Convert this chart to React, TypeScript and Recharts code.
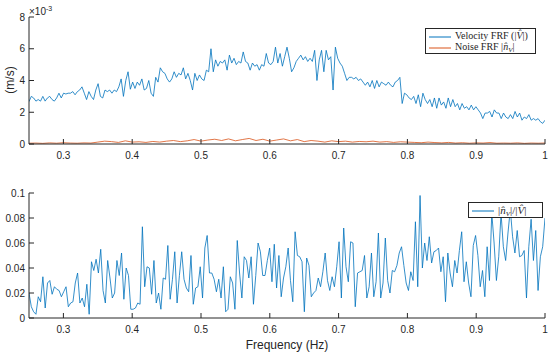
import React from 'react'
import { LineChart, Line, XAxis, YAxis } from 'recharts'

// velocity FRF magnitude, units of 1e-3 m/s, evenly spaced 0.25..1 Hz
const VELOCITY = [
  2.67, 3.0, 2.9, 2.7, 2.8, 2.7, 3.0, 2.7, 2.9, 3.0,
  2.8, 2.7, 2.9, 3.2, 2.9, 3.2, 3.15, 3.2, 3.2, 3.3,
  3.1, 3.3, 3.4, 3.6, 3.2, 2.8, 3.3, 3.0, 2.8, 3.4,
  3.8, 3.0, 2.9, 3.4, 3.3, 3.4, 3.2, 3.4, 3.3, 3.6,
  4.1, 3.0, 4.0, 4.55, 3.45, 3.9, 3.5, 3.9, 3.7, 4.1,
  3.4, 3.5, 4.0, 3.2, 3.0, 4.2, 3.9, 4.8, 4.55, 4.45,
  4.1, 3.9, 4.1, 4.55, 4.2, 4.45, 4.35, 4.8, 4.1, 4.45,
  4.0, 3.4, 4.45, 4.0, 4.35, 4.1, 4.0, 4.65, 4.55, 6.0,
  4.55, 5.3, 4.9, 5.2, 5.1, 5.3, 4.65, 5.6, 5.1, 5.4,
  5.0, 5.2, 5.1, 5.8, 5.2, 5.1, 4.65, 5.1, 4.9, 5.0,
  4.65, 5.0, 4.9, 5.7, 5.1, 5.0, 5.2, 6.1, 5.1, 5.7,
  4.9, 5.5,
  6.1, 5.4, 4.55, 4.8, 5.2, 5.4, 5.6, 5.3, 5.5, 5.2,
  5.4, 5.2, 5.9, 4.0, 5.3, 5.9, 4.55, 5.9, 5.3, 5.5,
  3.4, 6.1, 5.4, 5.1, 4.9, 4.45, 4.0, 4.2, 4.2, 4.1,
  4.2, 4.0, 4.1, 3.9, 3.7, 3.9, 3.6, 4.0, 3.5, 4.0,
  3.6, 3.9, 3.8, 3.7, 3.9, 3.7, 3.6, 3.9, 4.0, 4.2,
  2.55, 3.2, 3.1, 2.9, 2.8, 3.0, 2.55, 3.1, 2.35, 3.2,
  2.8, 2.55, 2.8, 2.35, 2.9, 2.25, 2.9, 2.45, 2.65, 2.25,
  2.9, 2.35, 2.8, 2.35, 2.55, 2.15, 2.55, 2.25, 2.35, 2.15,
  2.45, 2.15, 2.35, 2.15, 1.95, 1.6, 1.95, 1.95, 2.05, 1.7,
  2.15, 1.95, 1.95, 1.6, 1.95, 1.7, 1.6, 1.85, 1.6, 2.05,
  1.7, 1.95, 1.5, 1.7, 1.6, 1.85, 1.5, 1.6, 1.5, 1.6,
  1.4, 1.3, 1.5,
]

// noise FRF, units of 1e-3 m/s
const NOISE = [
  0.05, 0.06, 0.04, 0.07, 0.05, 0.08, 0.06, 0.05, 0.07, 0.06,
  0.12, 0.18, 0.15, 0.10, 0.20, 0.12, 0.14, 0.10, 0.16, 0.12,
  0.18, 0.22, 0.15, 0.20, 0.28, 0.18, 0.25, 0.30, 0.22, 0.32,
  0.20, 0.28, 0.35, 0.22, 0.30, 0.18, 0.25, 0.32, 0.20, 0.28,
  0.15, 0.22, 0.18, 0.12, 0.20, 0.15, 0.18, 0.12, 0.16, 0.14,
  0.18, 0.12, 0.15, 0.10, 0.14, 0.12, 0.10, 0.08, 0.12, 0.09,
  0.07, 0.10, 0.06, 0.08, 0.05, 0.07, 0.06, 0.09, 0.05, 0.06,
  0.05, 0.07, 0.04, 0.06, 0.05, 0.06,
]

// ratio |n_V| / |V|
const RATIO = [
  0.020, 0.009, 0.005, 0.003, 0.017, 0.013, 0.033, 0.008, 0.028, 0.030,
  0.019, 0.025, 0.023, 0.022, 0.017, 0.021, 0.025, 0.009, 0.012, 0.013,
  0.028, 0.036, 0.012, 0.016, 0.009, 0.027, 0.003, 0.045, 0.038, 0.047,
  0.036, 0.055, 0.022, 0.012, 0.046, 0.032, 0.016, 0.020, 0.046, 0.034,
  0.052, 0.015, 0.040, 0.034, 0.007, 0.007, 0.008, 0.012, 0.011, 0.073,
  0.025, 0.041, 0.040, 0.019, 0.046, 0.012, 0.020, 0.007, 0.032, 0.031,
  0.058, 0.015, 0.031, 0.053, 0.012, 0.034, 0.053, 0.031, 0.024, 0.021,
  0.050, 0.011, 0.024, 0.025, 0.041, 0.016, 0.056, 0.066, 0.036, 0.036,
  0.031, 0.021, 0.031, 0.016, 0.041, 0.005, 0.007, 0.033, 0.028, 0.007,
  0.062, 0.036, 0.016, 0.049, 0.046, 0.032, 0.049, 0.011, 0.034, 0.060,
  0.053, 0.034, 0.034, 0.046, 0.056, 0.029, 0.059, 0.024, 0.050, 0.017,
  0.032, 0.041, 0.056,
  0.030, 0.013, 0.069, 0.050, 0.049, 0.045, 0.005, 0.048, 0.042, 0.017,
  0.020, 0.022, 0.032, 0.025, 0.037, 0.052, 0.030, 0.022, 0.033, 0.025,
  0.041, 0.061, 0.016, 0.072, 0.041, 0.029, 0.061, 0.060, 0.009, 0.036,
  0.037, 0.038, 0.050, 0.016, 0.025, 0.052, 0.017, 0.029, 0.068, 0.016,
  0.028, 0.064, 0.030, 0.020, 0.038, 0.037, 0.042, 0.052, 0.057, 0.042,
  0.028, 0.022, 0.037, 0.030, 0.077, 0.025, 0.098, 0.040, 0.060, 0.046,
  0.065, 0.044, 0.053, 0.054, 0.056, 0.037, 0.049, 0.013, 0.052, 0.036,
  0.025, 0.046, 0.036, 0.054, 0.069, 0.029, 0.045, 0.028, 0.017, 0.058,
  0.066, 0.050, 0.025, 0.038, 0.017, 0.057, 0.030, 0.084, 0.060, 0.030,
  0.049, 0.084, 0.057, 0.046, 0.068, 0.087, 0.065, 0.052, 0.070, 0.049,
  0.050, 0.054, 0.016, 0.057, 0.079, 0.046, 0.070, 0.022, 0.049, 0.057,
  0.080,
]

const F_MIN = 0.25
const F_MAX = 1
const X_TICKS = [0.3, 0.4, 0.5, 0.6, 0.7, 0.8, 0.9, 1]
const TOP_Y_TICKS = [0, 2, 4, 6, 8]
const BOTTOM_Y_TICKS = [0, 0.02, 0.04, 0.06, 0.08, 0.1]

const BLUE = '#0072BD'
const ORANGE = '#D95319'
const AXIS = '#262626'
const SANS = '"Liberation Sans", Arial, Helvetica, sans-serif'
const SERIF = '"Liberation Serif", "Times New Roman", serif'

const toSeries = (vals: number[]) =>
  vals.map((v, i) => ({ f: F_MIN + (i * (F_MAX - F_MIN)) / (vals.length - 1), v }))

const tickStyle = { fill: AXIS, fontSize: 10, fontFamily: SANS }
const fmt = (v: number) => String(v)
const blank = () => ''

// MATLAB-style box: ticks point inward on all four sides
function axes(yTicks: number[], yMax: number, xHeight: number) {
  return [
    <XAxis key="xb" xAxisId="b" type="number" dataKey="f" domain={[F_MIN, F_MAX]} allowDataOverflow
      ticks={X_TICKS} tickFormatter={fmt} height={xHeight} tickSize={-5} tickMargin={13}
      stroke={AXIS} tick={tickStyle} interval={0} />,
    <XAxis key="xt" xAxisId="t" orientation="top" type="number" dataKey="f" domain={[F_MIN, F_MAX]} allowDataOverflow
      ticks={X_TICKS} tickFormatter={blank} height={0} tickSize={-5} stroke={AXIS} interval={0} />,
    <YAxis key="yl" yAxisId="l" type="number" domain={[0, yMax]} allowDataOverflow ticks={yTicks}
      tickFormatter={fmt} width={29} tickSize={-5} tickMargin={9} stroke={AXIS} tick={tickStyle} interval={0} />,
    <YAxis key="yr" yAxisId="r" orientation="right" type="number" domain={[0, yMax]} allowDataOverflow
      ticks={yTicks} tickFormatter={blank} width={0} tickSize={-5} stroke={AXIS} interval={0} />,
  ]
}

function LegendLine({ color }: { color: string }) {
  return (
    <svg width={22} height={6} style={{ display: 'inline-block', marginRight: 4, verticalAlign: 'middle' }}>
      <line x1={0} y1={3} x2={22} y2={3} stroke={color} strokeWidth={1} />
    </svg>
  )
}

const it = { fontStyle: 'italic' as const }
const sub = { fontSize: 7, fontStyle: 'italic' as const, verticalAlign: -2 }

export default function App() {
  const vel = toSeries(VELOCITY)
  const noise = toSeries(NOISE)
  const ratio = toSeries(RATIO)

  return (
    <div style={{ position: 'absolute', left: 0, top: 0, width: 550, height: 356, background: '#fff', fontFamily: SANS }}>
      <div style={{ position: 'absolute', left: 0, top: 0 }}>
        <LineChart width={550} height={170} margin={{ top: 17, right: 5, bottom: 0, left: 0 }}>
          {axes(TOP_Y_TICKS, 8, 26)}
          <Line xAxisId="b" yAxisId="l" data={vel} dataKey="v" stroke={BLUE} strokeWidth={0.8} dot={false} isAnimationActive={false} />
          <Line xAxisId="b" yAxisId="l" data={noise} dataKey="v" stroke={ORANGE} strokeWidth={0.8} dot={false} isAnimationActive={false} />
        </LineChart>
      </div>
      <div style={{ position: 'absolute', left: 0, top: 176 }}>
        <LineChart width={550} height={180} margin={{ top: 17, right: 5, bottom: 0, left: 0 }}>
          {axes(BOTTOM_Y_TICKS, 0.1, 38)}
          <Line xAxisId="b" yAxisId="l" data={ratio} dataKey="v" stroke={BLUE} strokeWidth={0.8} dot={false} isAnimationActive={false} />
        </LineChart>
      </div>

      <div style={{ position: 'absolute', left: 29, top: 3, fontSize: 10, color: AXIS, whiteSpace: 'nowrap', lineHeight: '12px' }}>
        ×10<sup style={{ fontSize: 7, verticalAlign: 4 }}>-3</sup>
      </div>

      <div style={{ position: 'absolute', left: 10, top: 80, fontSize: 12, color: AXIS, transform: 'translate(-50%, -50%) rotate(-90deg)', whiteSpace: 'nowrap' }}>
        (m/s)
      </div>

      <div style={{ position: 'absolute', left: 287, top: 345, fontSize: 12, color: AXIS, transform: 'translate(-50%, -50%)', whiteSpace: 'nowrap' }}>
        Frequency (Hz)
      </div>

      <div style={{ position: 'absolute', left: 425, top: 28, width: 106, height: 23, border: `1px solid ${AXIS}`, background: '#fff', fontFamily: SERIF, fontSize: 10, color: AXIS, lineHeight: '11px', padding: '1px 0 0 3px' }}>
        <div style={{ whiteSpace: 'nowrap' }}><LegendLine color={BLUE} />Velocity FRF (|<span style={it}>V̂</span>|)</div>
        <div style={{ whiteSpace: 'nowrap' }}><LegendLine color={ORANGE} />Noise FRF |<span style={it}>n̂</span><sub style={sub}>V</sub>|</div>
      </div>

      <div style={{ position: 'absolute', left: 468, top: 202, width: 70, height: 13, border: `1px solid ${AXIS}`, background: '#fff', fontFamily: SERIF, fontSize: 11, color: AXIS, lineHeight: '13px', padding: '1px 0 0 3px', whiteSpace: 'nowrap' }}>
        <LegendLine color={BLUE} />|<span style={it}>n̂</span><sub style={sub}>V</sub>|/|<span style={it}>V̂</span>|
      </div>
    </div>
  )
}
